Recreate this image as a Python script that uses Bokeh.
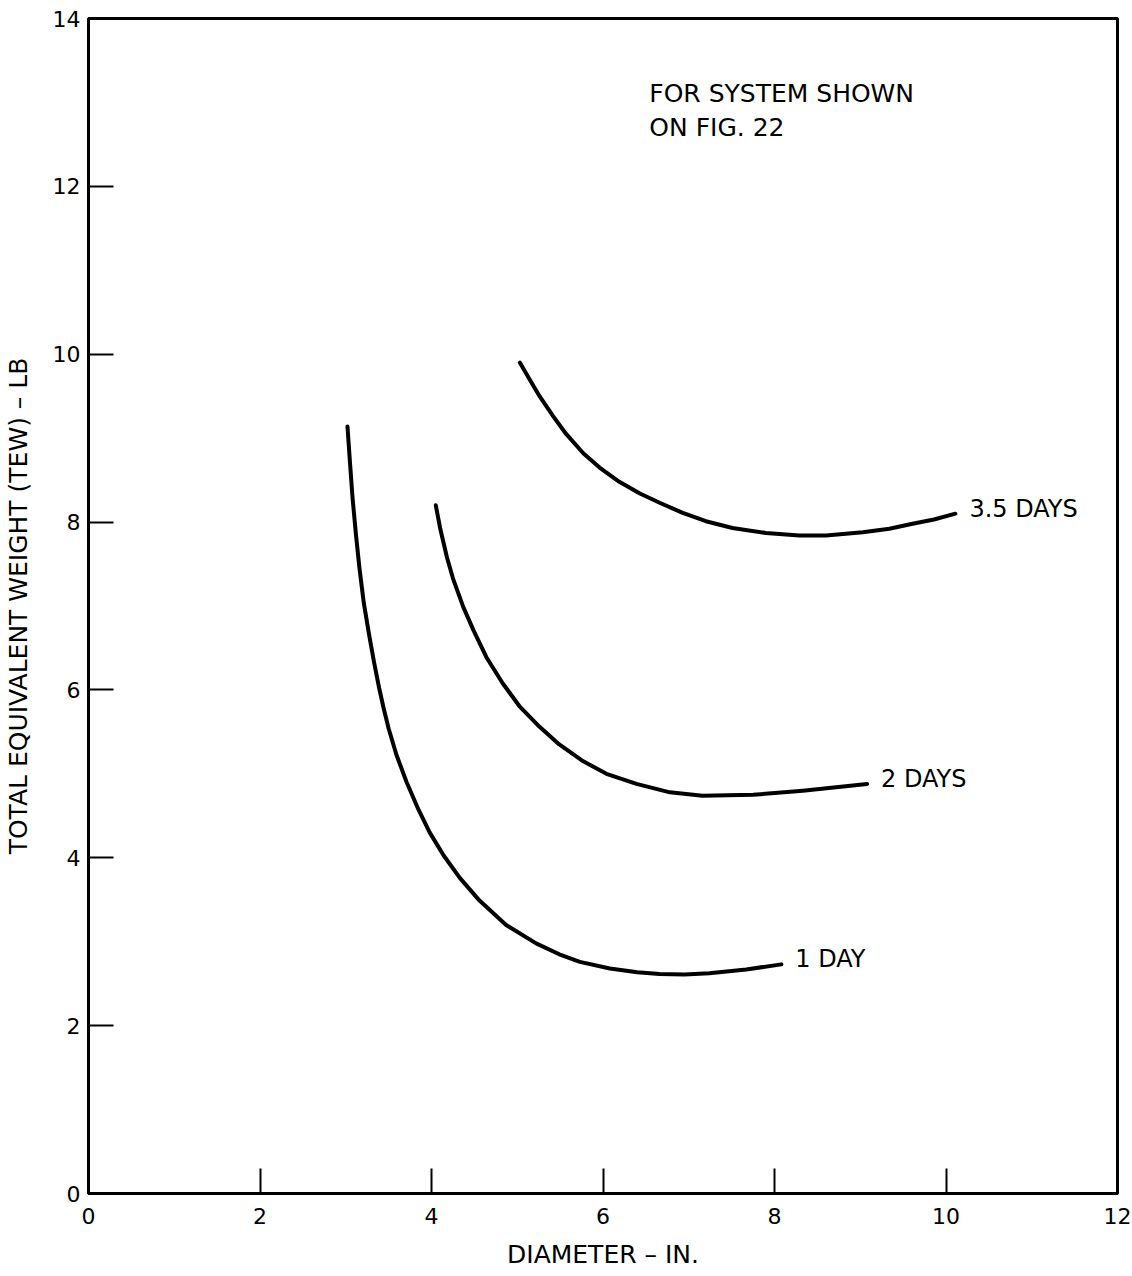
from bokeh.plotting import figure
from bokeh.models import ColumnDataSource, Label, FixedTicker
from bokeh.core.properties import value
from bokeh.embed import file_html
from bokeh.resources import INLINE

FONT = "DejaVu Sans"

# Data (diameter in., TEW lb)
x_ticks = [0, 2, 4, 6, 8, 10, 12]
y_ticks = [0, 2, 4, 6, 8, 10, 12, 14]

day1_x = [3.02, 3.05, 3.08, 3.12, 3.16, 3.21, 3.27, 3.33, 3.39, 3.44, 3.50, 3.59, 3.71, 3.85,
          3.98, 4.14, 4.33, 4.56, 4.87, 5.22, 5.49, 5.73, 6.08, 6.40, 6.66, 6.95, 7.24, 7.67, 8.08]
day1_y = [9.14, 8.70, 8.28, 7.84, 7.45, 7.04, 6.67, 6.33, 6.02, 5.79, 5.54, 5.23, 4.90, 4.57,
          4.30, 4.03, 3.76, 3.49, 3.20, 2.98, 2.85, 2.76, 2.68, 2.635, 2.615, 2.61, 2.625, 2.67, 2.73]

day2_x = [4.05, 4.10, 4.18, 4.25, 4.37, 4.49, 4.64, 4.83, 5.03, 5.26, 5.49, 5.77, 6.04, 6.39,
          6.78, 7.16, 7.75, 8.33, 9.08]
day2_y = [8.20, 7.93, 7.58, 7.33, 6.99, 6.71, 6.39, 6.08, 5.80, 5.56, 5.35, 5.15, 5.00, 4.88,
          4.78, 4.74, 4.75, 4.80, 4.88]

day35_x = [5.03, 5.15, 5.26, 5.42, 5.57, 5.77, 5.96, 6.19, 6.43, 6.66, 6.93, 7.20, 7.51, 7.90,
           8.29, 8.60, 9.03, 9.34, 9.61, 9.86, 10.11]
day35_y = [9.90, 9.69, 9.50, 9.26, 9.05, 8.82, 8.65, 8.48, 8.34, 8.23, 8.11, 8.01, 7.93, 7.87,
           7.84, 7.84, 7.88, 7.92, 7.98, 8.03, 8.10]

series_names = ["1 DAY", "2 DAYS", "3.5 DAYS"]
series_x = [day1_x, day2_x, day35_x]
series_y = [day1_y, day2_y, day35_y]

note_lines = ["FOR SYSTEM SHOWN", "ON FIG. 22"]

p = figure(width=1132, height=1276, x_range=(0, 12), y_range=(0, 14),
           output_backend="svg", toolbar_location=None,
           min_border_left=88, min_border_right=15, min_border_top=18, min_border_bottom=83)

p.background_fill_color = "white"
p.border_fill_color = "white"
p.grid.visible = False
p.outline_line_color = "black"
p.outline_line_width = 3

for ax in (p.xaxis[0], p.yaxis[0]):
    ax.axis_line_width = 3
    ax.axis_line_color = "black"
    ax.major_tick_in = 25
    ax.major_tick_out = 0
    ax.major_tick_line_width = 2
    ax.minor_tick_in = 0
    ax.minor_tick_out = 0
    ax.major_label_text_font = FONT
    ax.major_label_text_font_size = "22px"
    ax.major_label_text_color = "black"
    ax.axis_label_text_font = FONT
    ax.axis_label_text_font_size = "25px"
    ax.axis_label_text_font_style = "normal"
    ax.axis_label_text_color = "black"

p.xaxis.ticker = FixedTicker(ticks=x_ticks)
p.yaxis.ticker = FixedTicker(ticks=y_ticks)
p.xaxis.axis_label = "DIAMETER \u2013 IN."
p.yaxis.axis_label = "TOTAL EQUIVALENT WEIGHT (TEW) \u2013 LB"
p.xaxis.major_label_standoff = 14
p.yaxis.major_label_standoff = 8
p.xaxis.axis_label_standoff = 13
p.yaxis.axis_label_standoff = 17

for name, xs, ys in zip(series_names, series_x, series_y):
    src = ColumnDataSource(dict(x=xs, y=ys))
    p.line("x", "y", source=src, line_color="black", line_width=4, line_cap="round", line_join="round")

lab_src = ColumnDataSource(dict(x=[xs[-1] for xs in series_x],
                                y=[ys[-1] for ys in series_y],
                                t=series_names))
p.text("x", "y", text="t", source=lab_src, x_offset=14, y_offset=-5, text_baseline="middle",
       text_align="left", text_font=value(FONT), text_font_size="24px", text_color="black")

for i, line in enumerate(note_lines):
    p.add_layout(Label(x=6.54, y=13.11, y_offset=-34 * i, text=line, text_font=FONT,
                       text_font_size="25px", text_baseline="middle", text_align="left",
                       text_color="black"))

open("out.html", "w").write(file_html(p, INLINE))
